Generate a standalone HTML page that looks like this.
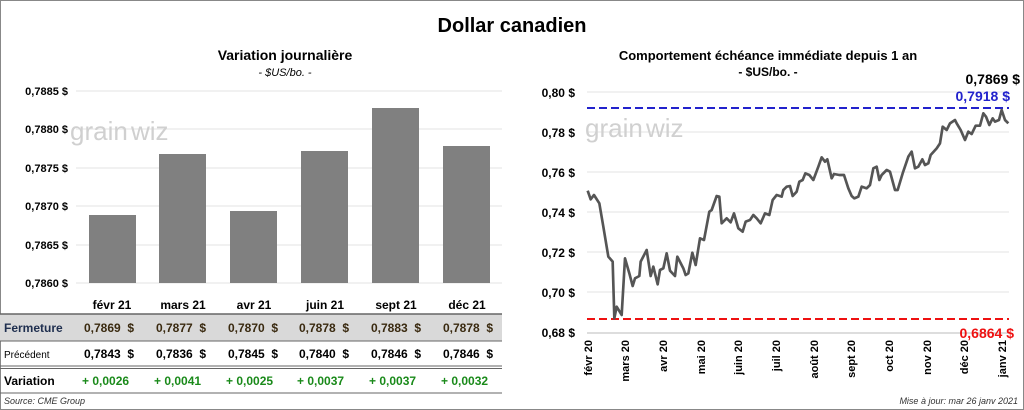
<!DOCTYPE html><html><head><meta charset="utf-8"><style>
body{margin:0;background:#fff;font-family:"Liberation Sans",sans-serif}
.f{position:absolute;left:0;top:0;width:1022px;height:408px;border:1px solid #888}
svg text{font-family:"Liberation Sans",sans-serif}
</style></head><body>
<div class="f"></div>
<svg width="1024" height="410" style="position:absolute;left:0;top:0">
<text x="512" y="32" font-size="20" font-weight="bold" text-anchor="middle">Dollar canadien</text>
<text x="285" y="60" font-size="14" font-weight="bold" text-anchor="middle">Variation  journalière</text>
<text x="285" y="76" font-size="11" font-style="italic" text-anchor="middle">- $US/bo. -</text>
<g stroke="#e3e3e3" stroke-width="1">
<line x1="76" x2="502" y1="91" y2="91"/><line x1="76" x2="502" y1="129" y2="129"/><line x1="76" x2="502" y1="168" y2="168"/><line x1="76" x2="502" y1="206" y2="206"/><line x1="76" x2="502" y1="245" y2="245"/><line x1="76" x2="502" y1="283" y2="283"/></g>
<g font-size="11" font-weight="bold" text-anchor="end">
<text x="68" y="95">0,7885 $</text><text x="68" y="133">0,7880 $</text><text x="68" y="172">0,7875 $</text><text x="68" y="210">0,7870 $</text><text x="68" y="249">0,7865 $</text><text x="68" y="287">0,7860 $</text></g>
<text x="70" y="140" font-size="26" fill="#d0d0d0">grain</text><text x="131" y="140" font-size="26" fill="#d0d0d0">wiz</text>
<g fill="#808080">
<rect x="89" y="215" width="47" height="68"/><rect x="159" y="154" width="47" height="129"/><rect x="230" y="211" width="47" height="72"/><rect x="301" y="151" width="47" height="132"/><rect x="372" y="108" width="47" height="175"/><rect x="443" y="146" width="47" height="137"/></g>
<g font-size="12" font-weight="bold" text-anchor="middle">
<text x="112" y="309">févr 21</text><text x="183" y="309">mars 21</text><text x="254" y="309">avr 21</text><text x="325" y="309">juin 21</text><text x="396" y="309">sept 21</text><text x="467" y="309">déc 21</text></g>
<rect x="0" y="314" width="502" height="27" fill="#d9d9d9"/>
<line x1="0" x2="502" y1="314" y2="314" stroke="#666" stroke-width="1.5"/>
<line x1="0" x2="502" y1="341" y2="341" stroke="#666"/>
<line x1="0" x2="502" y1="366" y2="366" stroke="#666"/><line x1="0" x2="502" y1="368.5" y2="368.5" stroke="#666"/>
<line x1="0" x2="502" y1="393" y2="393" stroke="#666"/>
<g font-size="12" font-weight="bold"><text x="4" y="332" fill="#1f2f4f">Fermeture</text><text x="4" y="385">Variation</text></g>
<text x="4" y="358" font-size="10">Précédent</text>
<g font-size="12" font-weight="bold" fill="#3a2a10">
<text x="84" y="332">0,7869&#160;&#160;$</text><text x="156" y="332">0,7877&#160;&#160;$</text><text x="228" y="332">0,7870&#160;&#160;$</text><text x="299" y="332">0,7878&#160;&#160;$</text><text x="371" y="332">0,7883&#160;&#160;$</text><text x="443" y="332">0,7878&#160;&#160;$</text></g>
<g font-size="12" font-weight="bold">
<text x="84" y="358">0,7843&#160;&#160;$</text><text x="156" y="358">0,7836&#160;&#160;$</text><text x="228" y="358">0,7845&#160;&#160;$</text><text x="299" y="358">0,7840&#160;&#160;$</text><text x="371" y="358">0,7846&#160;&#160;$</text><text x="443" y="358">0,7846&#160;&#160;$</text></g>
<g font-size="12" font-weight="bold" fill="#1a8a1a">
<text x="82" y="385">+ 0,0026</text><text x="154" y="385">+ 0,0041</text><text x="226" y="385">+ 0,0025</text><text x="297" y="385">+ 0,0037</text><text x="369" y="385">+ 0,0037</text><text x="441" y="385">+ 0,0032</text></g>
<text x="4" y="404" font-size="9" font-style="italic" fill="#333">Source: CME Group</text>
<text x="1018" y="404" font-size="9" font-style="italic" fill="#333" text-anchor="end">Mise à jour: mar 26 janv 2021</text>
<text x="768" y="60" font-size="13" font-weight="bold" text-anchor="middle">Comportement échéance immédiate depuis 1 an</text>
<text x="768" y="76" font-size="12" font-weight="bold" text-anchor="middle">- $US/bo. -</text>
<g stroke="#e3e3e3"><line x1="587" x2="1009" y1="92" y2="92"/><line x1="587" x2="1009" y1="132" y2="132"/><line x1="587" x2="1009" y1="172" y2="172"/><line x1="587" x2="1009" y1="212" y2="212"/><line x1="587" x2="1009" y1="252" y2="252"/><line x1="587" x2="1009" y1="292" y2="292"/></g>
<line x1="587" x2="1009" y1="333" y2="333" stroke="#bbb"/>
<g font-size="12" font-weight="bold" text-anchor="end">
<text x="575" y="97">0,80 $</text><text x="575" y="137">0,78 $</text><text x="575" y="177">0,76 $</text><text x="575" y="217">0,74 $</text><text x="575" y="257">0,72 $</text><text x="575" y="297">0,70 $</text><text x="575" y="337">0,68 $</text></g>
<text x="585" y="137" font-size="26" fill="#d0d0d0">grain</text><text x="646" y="137" font-size="26" fill="#d0d0d0">wiz</text>
<line x1="587" x2="1009" y1="108" y2="108" stroke="#2222cc" stroke-width="2" stroke-dasharray="8,4"/>
<line x1="587" x2="1009" y1="319" y2="319" stroke="#ee1111" stroke-width="2" stroke-dasharray="8,4"/>
<g transform="translate(520,60) scale(0.33333)"><polyline fill="none" stroke="#555" stroke-width="8" stroke-linejoin="round" points="203,392 212,418 222,405 238,430 250,500 265,590 278,605 283,775 290,740 305,765 315,595 328,640 338,678 345,655 358,648 362,605 380,570 392,648 400,620 413,673 420,630 430,625 440,580 450,632 465,648 472,590 490,625 497,645 505,640 517,578 527,615 540,535 552,540 568,455 575,450 590,408 598,410 605,490 620,475 632,487 642,460 655,505 668,515 677,485 690,480 700,465 710,475 722,490 735,460 748,465 758,420 770,405 785,410 790,390 800,380 810,378 818,408 830,395 838,365 848,360 856,340 868,345 880,360 895,320 905,292 915,305 922,298 935,355 942,342 958,345 972,345 985,385 995,408 1003,415 1015,410 1025,380 1040,385 1050,375 1060,325 1070,320 1078,360 1085,345 1100,330 1110,335 1125,390 1133,390 1148,340 1165,290 1175,275 1185,325 1195,320 1207,298 1215,315 1225,310 1232,285 1250,265 1260,250 1268,200 1280,210 1290,190 1305,180 1310,190 1322,210 1335,240 1345,215 1355,222 1367,197 1380,197 1390,160 1398,170 1408,195 1418,175 1425,185 1437,180 1445,150 1455,180 1465,190"/></g>
<text x="1020" y="84" font-size="14" font-weight="bold" text-anchor="end">0,7869 $</text>
<text x="1010" y="101" font-size="14" font-weight="bold" fill="#2222cc" text-anchor="end">0,7918&#160;$</text>
<text x="1014" y="338" font-size="14" font-weight="bold" fill="#ee1111" text-anchor="end">0,6864&#160;$</text>
<g font-size="11" font-weight="bold" text-anchor="end">
<text transform="translate(592,340) rotate(-90)">févr 20</text><text transform="translate(629,340) rotate(-90)">mars 20</text><text transform="translate(667,340) rotate(-90)">avr 20</text><text transform="translate(705,340) rotate(-90)">mai 20</text><text transform="translate(742,340) rotate(-90)">juin 20</text><text transform="translate(780,340) rotate(-90)">juil 20</text><text transform="translate(818,340) rotate(-90)">août 20</text><text transform="translate(855,340) rotate(-90)">sept 20</text><text transform="translate(893,340) rotate(-90)">oct 20</text><text transform="translate(931,340) rotate(-90)">nov 20</text><text transform="translate(968,340) rotate(-90)">déc 20</text><text transform="translate(1006,340) rotate(-90)">janv 21</text></g>
</svg>
</body></html>
